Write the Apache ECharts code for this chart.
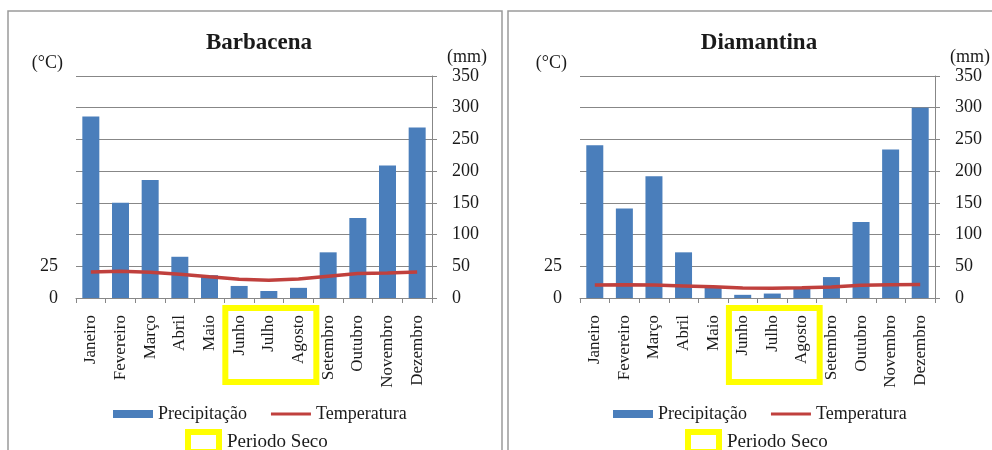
<!DOCTYPE html>
<html>
<head>
<meta charset="utf-8">
<script src="https://cdn.jsdelivr.net/npm/echarts@6/dist/echarts.min.js"></script>
<style>
html,body{margin:0;padding:0;background:#fff;}
#chart{width:992px;height:450px;}
</style>
</head>
<body>
<div id="chart"></div>
<script>
const months = ['Janeiro','Fevereiro','Março','Abril','Maio','Junho','Julho','Agosto','Setembro','Outubro','Novembro','Dezembro'];
const barbacenaPrec = [286,150,186,65,36,19,11,16,72,126,209,269];
const barbacenaTemp = [20.5,21,20.3,18.8,16.7,14.8,14,15,17.2,19.3,19.8,20.5];
const diamantinaPrec = [241,141,192,72,18,5,7,16,33,120,234,300];
const diamantinaTemp = [10.2,10.5,10.2,9.5,8.8,7.8,7.6,8,8.6,10,10.4,10.6];
const dryPeriod = [5,7];           // Junho .. Agosto
const tempLabels = [0,25];         // labels shown on the °C axis
const panelTitles = ['Barbacena','Diamantina'];

const SERIF = "'Liberation Serif','Times New Roman',serif";
const TXT = '#1a1a1a';
const GRID_C = '#878787';
const BAR_C = '#4a7ebb';
const LINE_C = '#c0403d';
const YELLOW = '#ffff00';

const chart = echarts.init(document.getElementById('chart'), null, {renderer:'canvas'});

const grids = [
  {left:76, top:76, width:356, height:222},
  {left:580, top:76, width:355, height:222}
];
const offs = [0, 500];

function renderDry(params, api){
  const a = api.coord([api.value(0), 0]);
  const b = api.coord([api.value(1), 0]);
  const bw = api.size([1,0])[0];
  const x0 = a[0] - bw/2 + 1;
  const x1 = b[0] + bw/2 + 3;
  return {type:'rect', shape:{x:x0, y:a[1]+10, width:x1-x0, height:74},
          style:{fill:null, stroke:YELLOW, lineWidth:6}};
}

const xAxes = [], yAxes = [], series = [], legends = [], titles = [];
[0,1].forEach(i => {
  xAxes.push({
    type:'category', gridIndex:i, data:months,
    axisLine:{show:true, lineStyle:{color:GRID_C, width:1}},
    axisTick:{show:true, length:5, lineStyle:{color:GRID_C}},
    axisLabel:{rotate:90, interval:0, margin:17, fontFamily:SERIF, fontSize:17, color:TXT}
  });
  yAxes.push({
    type:'value', gridIndex:i, position:'left', min:0, max:175, interval:25,
    axisLine:{show:false}, axisTick:{show:false}, splitLine:{show:false},
    axisLabel:{margin:18, fontFamily:SERIF, fontSize:18, color:TXT,
      formatter: v => tempLabels.indexOf(v) >= 0 ? String(v) : ''},
    name:'(°C)', nameLocation:'end', nameGap:4,
    nameTextStyle:{fontFamily:SERIF, fontSize:18, color:TXT, align:'right', padding:[0,13,0,0]}
  });
  yAxes.push({
    type:'value', gridIndex:i, position:'right', min:0, max:350, interval:50,
    axisLine:{show:true, lineStyle:{color:GRID_C, width:1}},
    axisTick:{show:true, length:5, lineStyle:{color:GRID_C}},
    splitLine:{show:true, lineStyle:{color:GRID_C, width:1}},
    axisLabel:{margin:20, fontFamily:SERIF, fontSize:18, color:TXT},
    name:'(mm)', nameLocation:'end', nameGap:10,
    nameTextStyle:{fontFamily:SERIF, fontSize:18, color:TXT, align:'left', padding:[0,0,0,15]}
  });
  const prec = i === 0 ? barbacenaPrec : diamantinaPrec;
  const temp = i === 0 ? barbacenaTemp : diamantinaTemp;
  series.push({
    name:'Precipitação', type:'bar', xAxisIndex:i, yAxisIndex:i*2+1,
    data:prec, barWidth:17, itemStyle:{color:BAR_C}, z:2
  });
  series.push({
    name:'Temperatura', type:'line', xAxisIndex:i, yAxisIndex:i*2,
    data:temp, symbol:'none', showSymbol:false, lineStyle:{color:LINE_C, width:3.5}, itemStyle:{color:LINE_C}, z:3
  });
  series.push({
    name:'Periodo Seco', type:'custom', xAxisIndex:i, yAxisIndex:i*2+1,
    data:[dryPeriod], renderItem:renderDry, clip:false, silent:true,
    itemStyle:{color:'#fff', borderColor:YELLOW, borderWidth:6}, z:4
  });
  legends.push({
    left:113 + offs[i], top:405, padding:0, itemGap:24, itemWidth:40, itemHeight:8,
    textStyle:{fontFamily:SERIF, fontSize:18, color:TXT},
    data:[{name:'Precipitação', icon:'rect'},
          {name:'Temperatura', icon:'path://M0,0H40V3H0Z', itemStyle:{color:LINE_C}}],
    selectedMode:false
  });
  legends.push({
    left:185 + offs[i], top:429, padding:0, itemWidth:31, itemHeight:20,
    textStyle:{fontFamily:SERIF, fontSize:19, color:TXT, padding:[0,0,0,3]},
    data:[{name:'Periodo Seco', icon:'rect',
           itemStyle:{color:'#fff', borderColor:YELLOW, borderWidth:6}}],
    selectedMode:false
  });
  titles.push({
    text:panelTitles[i], left:254 + offs[i], top:27, textAlign:'center',
    textStyle:{fontFamily:SERIF, fontSize:23, fontWeight:'bold', color:TXT}
  });
});

chart.setOption({
  backgroundColor:'#fff',
  animation:false,
  title:titles,
  grid:grids,
  xAxis:xAxes,
  yAxis:yAxes,
  legend:legends,
  series:series,
  graphic:[
    {type:'rect', shape:{x:8, y:11, width:494, height:450}, style:{fill:null, stroke:'#9a9a9a', lineWidth:1.5}, z:-10},
    {type:'rect', shape:{x:508, y:11, width:500, height:450}, style:{fill:null, stroke:'#9a9a9a', lineWidth:1.5}, z:-10}
  ]
});
</script>
</body>
</html>
